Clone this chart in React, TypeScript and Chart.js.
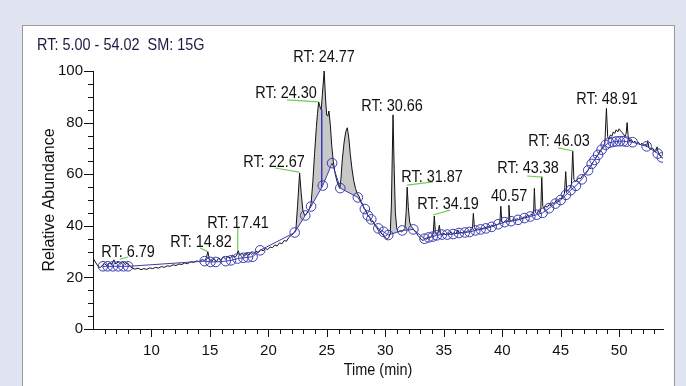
import React, { useEffect, useRef } from "react";
import { Chart, registerables } from "chart.js";

Chart.register(...registerables);

// ---------------- data ----------------
const headerText = "RT: 5.00 - 54.02  SM: 15G";
const xAxisTitle = "Time (min)";
const yAxisTitle = "Relative Abundance";

const xRange = [5.0, 53.75];
const yRange = [0, 100];
const xTickValues = [10, 15, 20, 25, 30, 35, 40, 45, 50];
const yTickValues = [0, 20, 40, 60, 80, 100];

// chromatogram trace (time, relative abundance)
const traceTime = [
  5.0, 5.2, 5.4, 5.6, 5.8, 6.0, 6.2, 6.4, 6.6, 6.79, 6.95, 7.15, 7.35, 7.55, 7.75, 7.95, 8.15, 8.35, 8.6, 8.85,
  9.1, 9.35, 9.6, 9.85, 10.1, 10.35, 10.6, 10.85, 11.1, 11.35, 11.6, 11.85, 12.1, 12.35, 12.6, 12.85, 13.1, 13.35, 13.6, 13.85,
  14.1, 14.35, 14.55, 14.7, 14.82, 14.95, 15.15, 15.35, 15.55, 15.75, 15.95, 16.15, 16.35, 16.55, 16.75, 16.95, 17.15, 17.3, 17.41, 17.55,
  17.75, 17.95, 18.15, 18.35, 18.55, 18.75, 18.95, 19.15, 19.35, 19.55, 19.75, 19.95, 20.15, 20.35, 20.55, 20.75, 20.95, 21.15, 21.35, 21.55,
  21.75, 21.95, 22.15, 22.35, 22.5, 22.67, 22.8, 22.95, 23.1, 23.3, 23.5, 23.65, 23.8, 23.95, 24.1, 24.2, 24.3, 24.42, 24.52, 24.62,
  24.77, 24.88, 24.98, 25.08, 25.18, 25.3, 25.42, 25.55, 25.7, 25.85, 26.0, 26.1, 26.2, 26.32, 26.48, 26.62, 26.75, 26.88, 27.0, 27.15,
  27.3, 27.45, 27.6, 27.75, 27.9, 28.05, 28.2, 28.35, 28.5, 28.65, 28.8, 28.95, 29.1, 29.25, 29.4, 29.55, 29.7, 29.85, 30.0, 30.15,
  30.3, 30.42, 30.52, 30.66, 30.76, 30.86, 30.98, 31.1, 31.25, 31.4, 31.55, 31.68, 31.78, 31.87, 31.97, 32.08, 32.2, 32.35, 32.5, 32.65,
  32.8, 32.95, 33.1, 33.25, 33.4, 33.55, 33.7, 33.85, 34.0, 34.1, 34.19, 34.28, 34.4, 34.52, 34.62, 34.72, 34.85, 35.0, 35.15, 35.3,
  35.45, 35.6, 35.75, 35.9, 36.05, 36.2, 36.32, 36.45, 36.6, 36.75, 36.9, 37.05, 37.2, 37.35, 37.45, 37.53, 37.62, 37.75, 37.9, 38.05,
  38.2, 38.35, 38.5, 38.65, 38.8, 38.95, 39.1, 39.25, 39.4, 39.55, 39.7, 39.8, 39.88, 39.96, 40.1, 40.25, 40.4, 40.5, 40.57, 40.66,
  40.8, 40.95, 41.1, 41.25, 41.4, 41.55, 41.7, 41.85, 42.0, 42.15, 42.3, 42.45, 42.6, 42.68, 42.75, 42.83, 42.95, 43.1, 43.22, 43.3,
  43.38, 43.47, 43.58, 43.7, 43.85, 44.0, 44.15, 44.3, 44.45, 44.6, 44.75, 44.9, 45.05, 45.2, 45.32, 45.43, 45.52, 45.65, 45.8, 45.92,
  46.03, 46.13, 46.25, 46.4, 46.55, 46.7, 46.85, 47.0, 47.15, 47.3, 47.45, 47.6, 47.75, 47.9, 48.05, 48.2, 48.35, 48.5, 48.65, 48.78,
  48.91, 49.02, 49.12, 49.25, 49.38, 49.5, 49.62, 49.75, 49.88, 50.0, 50.12, 50.25, 50.38, 50.5, 50.6, 50.68, 50.78, 50.92, 51.05, 51.2,
  51.35, 51.5, 51.65, 51.8, 51.95, 52.1, 52.25, 52.35, 52.44, 52.55, 52.7, 52.85, 53.0, 53.12, 53.24, 53.35, 53.5, 53.62, 53.75,
];
const traceAbundance = [
  27.5, 26.0, 24.5, 23.8, 24.6, 25.3, 24.6, 25.6, 25.0, 26.8, 25.2, 26.0, 25.1, 26.2, 25.0, 25.6, 24.4, 23.6, 23.2, 23.6,
  23.0, 23.4, 23.1, 23.7, 23.4, 23.9, 23.6, 24.2, 23.9, 24.5, 24.3, 24.9, 24.6, 25.2, 25.0, 25.6, 25.3, 26.1, 25.8, 26.4,
  26.1, 26.9, 26.5, 27.6, 30.0, 27.2, 26.2, 27.3, 26.0, 27.6, 26.6, 28.0, 27.0, 28.3, 27.4, 28.6, 27.8, 28.6, 30.4, 28.7,
  29.3, 28.2, 29.4, 28.6, 29.8, 29.0, 30.2, 29.6, 30.8, 30.3, 31.2, 30.8, 31.8, 31.5, 32.6, 32.2, 33.4, 33.0, 34.3, 34.0,
  35.5, 36.3, 37.0, 38.5, 48.0, 60.5, 53.0, 46.0, 44.0, 44.8, 46.5, 48.5, 57.0, 68.0, 78.0, 83.5, 88.0, 86.0, 85.0, 91.0,
  100.0, 90.0, 83.0, 82.5, 84.5, 79.0, 71.0, 65.0, 60.5, 57.5, 55.5, 54.5, 58.0, 65.5, 72.5, 76.5, 78.0, 74.0, 68.0, 62.0,
  57.5, 54.5, 52.5, 51.5, 49.5, 48.5, 46.5, 46.0, 44.0, 43.5, 41.5, 41.8, 40.0, 39.6, 38.2, 38.0, 36.8, 36.5, 35.3, 34.8,
  35.5, 37.0, 48.0, 83.0, 62.0, 45.0, 39.0, 37.5, 38.2, 37.6, 38.4, 39.0, 45.0, 55.0, 47.0, 41.5, 39.8, 39.0, 38.0, 37.3,
  36.2, 35.4, 34.6, 34.3, 35.0, 34.8, 35.6, 35.4, 36.3, 37.0, 43.8, 37.8, 36.8, 37.4, 40.2, 37.0, 36.4, 37.2, 36.5, 37.3,
  36.6, 37.6, 36.8, 37.4, 36.9, 38.4, 37.0, 37.6, 37.1, 38.0, 37.4, 38.2, 37.6, 38.3, 38.8, 44.8, 39.4, 38.3, 38.9, 38.4,
  39.2, 38.8, 39.6, 39.0, 39.9, 39.5, 40.3, 39.8, 40.6, 40.2, 40.9, 41.2, 47.6, 41.6, 41.2, 42.0, 41.5, 42.2, 48.0, 42.0,
  41.8, 42.6, 42.0, 42.8, 42.3, 43.1, 42.6, 43.5, 43.1, 44.0, 43.6, 44.4, 44.2, 45.0, 54.5, 45.2, 44.8, 45.6, 45.2, 46.5,
  59.0, 47.5, 46.8, 47.6, 47.2, 48.2, 47.8, 49.0, 48.6, 49.8, 49.5, 50.6, 50.4, 51.6, 52.4, 61.0, 53.2, 53.8, 54.6, 56.0,
  69.0, 58.0, 57.2, 57.8, 58.6, 58.2, 59.4, 59.8, 60.6, 61.4, 62.4, 63.2, 64.6, 65.4, 66.8, 67.6, 69.0, 69.8, 71.0, 72.0,
  85.5, 74.5, 73.5, 75.2, 74.8, 76.4, 75.8, 77.2, 76.4, 77.6, 76.8, 76.2, 75.4, 74.6, 75.8, 80.0, 74.0, 72.8, 73.4, 72.2,
  72.8, 71.8, 72.4, 71.4, 72.0, 71.2, 71.6, 70.6, 73.0, 70.2, 69.6, 70.2, 69.0, 68.6, 70.6, 68.2, 67.4, 66.8, 66.0,
];

// integration baseline points (circles)
const baselineTime = [
  5.85, 6.25, 6.7, 7.15, 7.6, 8.0, 14.55, 15.05, 15.5, 16.35, 16.8, 17.35, 17.85, 18.25, 18.65, 19.3,
  22.25, 23.15, 23.65, 24.65, 25.45, 26.15, 27.65, 28.25, 28.5, 28.8, 29.4, 29.85, 30.25, 31.45, 32.4,
  33.35, 33.7, 34.05, 34.4, 34.85, 35.3, 35.8, 36.3, 36.8, 37.2, 37.7, 38.15, 38.6, 39.1, 39.65, 40.2,
  40.75, 41.35, 41.9, 42.4, 42.95, 43.45, 44.0, 44.55, 45.0, 45.45, 45.85, 46.3, 46.8, 47.35, 47.65, 47.9,
  48.2, 48.5, 48.85, 49.15, 49.45, 49.75, 50.05, 50.35, 50.65, 51.15, 52.35, 53.3, 53.65,
];
const baselineAbundance = [
  24.3, 24.3, 24.3, 24.3, 24.3, 24.3, 26.3, 26.0, 26.0, 26.3, 26.6, 27.3, 27.6, 27.8, 28.0, 30.5,
  37.4, 44.0, 47.5, 55.6, 64.3, 54.6, 51.0, 46.5, 44.0, 42.5, 39.0, 37.7, 36.4, 38.2, 38.6,
  35.0, 35.5, 35.8, 36.3, 36.6, 36.6, 36.8, 37.2, 37.4, 37.6, 38.2, 38.6, 39.0, 39.6, 40.6, 41.4,
  41.8, 42.3, 43.0, 43.6, 44.3, 45.0, 46.8, 48.6, 50.0, 52.0, 53.8, 55.5, 58.0, 61.5, 64.0, 65.5,
  67.5, 69.5, 71.4, 72.2, 72.5, 72.7, 72.8, 72.8, 72.6, 72.4, 70.8, 68.0, 66.5,
];

// peak split (drop) line
const dropLineTime = [24.56, 24.56];
const dropLineAbundance = [85.0, 54.9];

// shaded integration window
const shadedWindow = [22.0, 35.0];

// peak labels, anchored in data units (time, abundance)
const peakLabelText = [
  "RT: 6.79", "RT: 14.82", "RT: 17.41", "RT: 22.67", "RT: 24.30", "RT: 24.77", "RT: 30.66",
  "RT: 31.87", "RT: 34.19", "40.57", "RT: 43.38", "RT: 46.03", "RT: 48.91",
];
const peakLabelTime = [8.0, 14.24, 17.4, 20.48, 21.51, 24.76, 30.58, 34.0, 35.37, 40.59, 42.21, 44.86, 48.97];
const peakLabelAbundance = [29.8, 33.7, 41.1, 64.7, 91.5, 105.4, 86.4, 58.9, 48.4, 51.6, 62.4, 72.9, 89.1];

// green leader lines from label to peak
const leaderFromTime = [7.31, 14.15, 17.38, 20.57, 21.6, 31.86, 34.08, 42.13, 44.78];
const leaderFromAbundance = [27.1, 31.4, 39.1, 62.4, 88.8, 55.8, 44.2, 59.3, 70.2];
const leaderToTime = [8.0, 14.75, 17.38, 22.64, 24.27, 34.08, 35.54, 43.41, 46.06];
const leaderToAbundance = [27.9, 30.2, 30.6, 60.8, 88.0, 57.0, 46.1, 58.9, 69.0];

// ---------------- styling ----------------
const W = 686;
const H = 386;
const SANS = '"Liberation Sans", Arial, sans-serif';
const SQUEEZE = 0.85;
const BLUE = "#3b3bb2";
const GREY_FILL = "#c8c8c8";
const GREEN = "#74c95a";
const INK = "#111111";

function narrowText(ctx: CanvasRenderingContext2D, text: string, x: number, y: number) {
  ctx.save();
  ctx.translate(x, y);
  ctx.scale(SQUEEZE, 1);
  ctx.fillText(text, 0, 0);
  ctx.restore();
}

const annotationPlugin = {
  id: "chromAnnotations",
  afterDraw(chart: any) {
    const ctx: CanvasRenderingContext2D = chart.ctx;
    const xs = chart.scales.x;
    const ys = chart.scales.y;
    const area = chart.chartArea;
    ctx.save();

    // axis tick marks (major + minor)
    ctx.strokeStyle = INK;
    ctx.lineWidth = 1;
    ctx.beginPath();
    for (let t = Math.ceil(xs.min); t <= Math.floor(xs.max); t++) {
      if (t <= xs.min) continue;
      const px = Math.round(xs.getPixelForValue(t)) + 0.5;
      const len = t % 5 === 0 ? 8 : 5;
      ctx.moveTo(px, area.bottom);
      ctx.lineTo(px, area.bottom + len);
    }
    for (let v = yRange[0]; v <= yRange[1]; v += 5) {
      const py = Math.round(ys.getPixelForValue(v)) + 0.5;
      const len = v % 20 === 0 ? 9 : 5;
      ctx.moveTo(area.left, py);
      ctx.lineTo(area.left - len, py);
    }
    ctx.stroke();

    // leader lines
    ctx.strokeStyle = GREEN;
    ctx.lineWidth = 1.2;
    for (let i = 0; i < leaderFromTime.length; i++) {
      ctx.beginPath();
      ctx.moveTo(xs.getPixelForValue(leaderFromTime[i]), ys.getPixelForValue(leaderFromAbundance[i]));
      ctx.lineTo(xs.getPixelForValue(leaderToTime[i]), ys.getPixelForValue(leaderToAbundance[i]));
      ctx.stroke();
    }

    // peak labels
    ctx.fillStyle = INK;
    ctx.font = `17px ${SANS}`;
    ctx.textAlign = "center";
    ctx.textBaseline = "middle";
    for (let i = 0; i < peakLabelText.length; i++) {
      narrowText(
        ctx,
        peakLabelText[i],
        xs.getPixelForValue(peakLabelTime[i]),
        ys.getPixelForValue(peakLabelAbundance[i])
      );
    }

    // x axis title
    ctx.font = `17px ${SANS}`;
    narrowText(ctx, xAxisTitle, (area.left + area.right) / 2, 370);

    // header
    ctx.font = `17px ${SANS}`;
    ctx.fillStyle = "#1a1a40";
    ctx.textAlign = "left";
    narrowText(ctx, headerText, 37, 45);
    ctx.restore();
  },
};

export default function App() {
  const canvasRef = useRef<HTMLCanvasElement>(null);

  useEffect(() => {
    const canvas = canvasRef.current;
    if (!canvas) return;
    const tracePoints = traceTime.map((t, i) => ({ x: t, y: traceAbundance[i] }));
    const baselinePoints = baselineTime.map((t, i) => ({ x: t, y: baselineAbundance[i] }));
    const dropPoints = dropLineTime.map((t, i) => ({ x: t, y: dropLineAbundance[i] }));
    const shadedPoints = tracePoints.filter((p) => p.x >= shadedWindow[0] && p.x <= shadedWindow[1]);

    const chart = new Chart(canvas, {
      type: "line",
      data: {
        datasets: [
          {
            label: "peak area",
            data: shadedPoints,
            borderWidth: 0,
            pointRadius: 0,
            backgroundColor: GREY_FILL,
            fill: { target: 2, above: GREY_FILL, below: "rgba(0,0,0,0)" },
            order: 3,
          },
          {
            label: "chromatogram",
            data: tracePoints,
            borderColor: INK,
            borderWidth: 1,
            pointRadius: 0,
            fill: false,
            order: 2,
          },
          {
            label: "baseline",
            data: baselinePoints,
            borderColor: BLUE,
            borderWidth: 1,
            pointRadius: 4.8,
            pointBorderColor: BLUE,
            pointBorderWidth: 1,
            pointBackgroundColor: "rgba(0,0,0,0)",
            fill: false,
            order: 1,
          },
          {
            label: "split",
            data: dropPoints,
            borderColor: BLUE,
            borderWidth: 1,
            pointRadius: 0,
            fill: false,
            order: 1,
          },
        ],
      },
      options: {
        responsive: false,
        animation: false,
        devicePixelRatio: 1,
        events: [],
        layout: { padding: { top: 71, right: 23, bottom: 0, left: 0 } },
        plugins: { legend: { display: false }, tooltip: { enabled: false } },
        scales: {
          x: {
            type: "linear",
            min: xRange[0],
            max: xRange[1],
            afterBuildTicks: (s: any) => {
              s.ticks = xTickValues.map((value) => ({ value }));
            },
            afterFit: (s: any) => {
              s.height = 57;
            },
            ticks: {
              autoSkip: false,
              maxRotation: 0,
              padding: 13,
              color: INK,
              font: { family: SANS, size: 15 },
              callback: (v: any) => String(v),
            },
            grid: { display: false, drawTicks: false },
            border: { display: true, color: INK, width: 1 },
            title: { display: false },
          },
          y: {
            type: "linear",
            min: yRange[0],
            max: yRange[1],
            afterBuildTicks: (s: any) => {
              s.ticks = yTickValues.map((value) => ({ value }));
            },
            afterFit: (s: any) => {
              s.width = 93;
            },
            ticks: {
              padding: 10,
              color: INK,
              font: { family: SANS, size: 15 },
              callback: (v: any) => String(v),
            },
            grid: { display: false, drawTicks: false },
            border: { display: true, color: INK, width: 1 },
            title: {
              display: true,
              text: yAxisTitle,
              color: INK,
              font: { family: SANS, size: 16 },
              padding: { top: 40, bottom: 0 },
            },
          },
        },
      },
      plugins: [annotationPlugin],
    } as any);

    return () => chart.destroy();
  }, []);

  return (
    <div
      style={{
        position: "fixed",
        left: 0,
        top: 0,
        width: W,
        height: H,
        background: "#e1e5f2",
        overflow: "hidden",
      }}
    >
      <div
        style={{
          position: "absolute",
          left: 22,
          top: 25,
          width: 653,
          height: 420,
          background: "#ffffff",
          border: "1px solid #9a9a9a",
          boxSizing: "border-box",
        }}
      />
      <canvas
        ref={canvasRef}
        width={W}
        height={H}
        style={{ position: "absolute", left: 0, top: 0, width: W, height: H }}
      />
    </div>
  );
}
